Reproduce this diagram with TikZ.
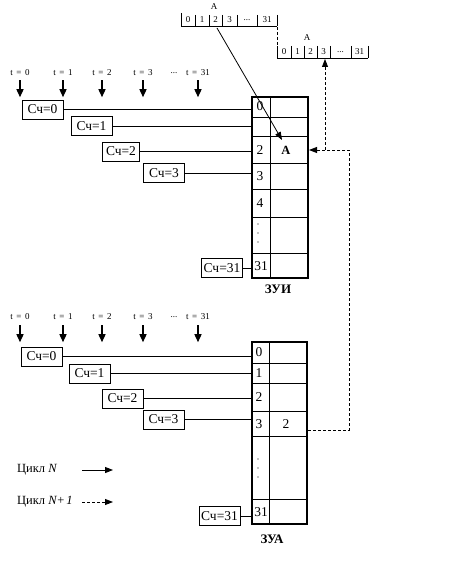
\documentclass[tikz,border=0pt]{standalone}
\usepackage{fontspec}
\setmainfont{Liberation Serif}
\usetikzlibrary{arrows.meta}
\begin{document}
\begin{tikzpicture}[x=1pt,y=-1pt,
  cbox/.style={draw, line width=0.9pt, minimum width=41pt, minimum height=19pt, inner sep=0pt, font=\fontsize{13.5}{13.5}\selectfont},
  tlab/.style={inner sep=0pt, font=\fontsize{9}{9}\selectfont},
  tarr/.style={-{Triangle[length=8pt,width=7pt]}, line width=1.4pt},
  link/.style={line width=0.8pt},
  dline/.style={dash pattern=on 3pt off 2pt, line width=0.9pt},
  rlab/.style={inner sep=0pt, font=\fontsize{13.5}{13.5}\selectfont},
  reg/.style={inner sep=0pt, font=\fontsize{9}{9}\selectfont},
  tbl/.style={draw, line width=1.4pt, inner sep=0pt},
  rowline/.style={line width=0.8pt},
  bigtip/.style={-{Triangle[length=8pt,width=6pt]}},
  ttl/.style={inner sep=0pt, font=\fontsize{13}{13}\selectfont\bfseries},
]
\useasboundingbox (0,0) rectangle (459,564);

% ---------------- registers at the top
\draw[rowline] (181,26) -- (277,26);
\foreach \x/\t in {181/13,195/15,209/15,222/15,237/15,257/15,277/15} \draw[rowline] (\x,\t) -- (\x,26);
\node[reg] (r1c0) at (188,20) {0};
\node[reg] (r1c1) at (202,20) {1};
\node[reg] (r1c2) at (215.5,20) {2};
\node[reg] (r1c3) at (229.5,20) {3};
\node[reg] (r1c4) at (247,20) {...};
\node[reg] (r1c5) at (267,20) {31};
\node[reg] (r1A) at (214,7) {A};

\draw[rowline] (277,58) -- (368,58);
\foreach \x in {277,291,304,317,330,351,368} \draw[rowline] (\x,46) -- (\x,58);
\node[reg] (r2c0) at (284,52) {0};
\node[reg] (r2c1) at (297.5,52) {1};
\node[reg] (r2c2) at (310.5,52) {2};
\node[reg] (r2c3) at (323.5,52) {3};
\node[reg] (r2c4) at (340.5,52) {...};
\node[reg] (r2c5) at (359.5,52) {31};
\node[reg] (r2A) at (307,38) {A};
\coordinate (r1end) at (277,27);
\coordinate (r2start) at (277,46);
\draw[dline] (r1end) -- (r2start);

% ---------------- ZUI table
\node[tbl, minimum width=56pt, minimum height=181pt] (zui) at (280,187.5) {};
\draw[rowline] (270,97) -- (270,278);
\foreach \y in {117,136,163,189,217,253} \draw[rowline] (252,\y) -- (308,\y);
\node[rlab] (u0) at (260,106) {0};
\node[rlab] (u2) at (260,150) {2};
\node[rlab] (u3) at (260,176) {3};
\node[rlab] (u4) at (260,203) {4};
\foreach \y in {224,233,242} \fill (258,\y) circle (0.7pt);
\node[rlab] (u31) at (261,266) {31};
\node[inner sep=0pt, font=\fontsize{12.5}{12.5}\selectfont\bfseries] (uA) at (286,150) {A};
\node[ttl] (zuiname) at (278,289) {ЗУИ};

% ---------------- top time labels
\foreach \n/\x/\t in {a0/20/0,a1/63/1,a2/102/2,a3/143/3,a31/198/31} {
  \node[tlab] (\n) at (\x,73) {t\hspace{3.5pt}=\hspace{3.5pt}\t};
  \draw[tarr] ([yshift=-4pt]\n.south) -- ++(0,17);
}
\node[tlab] (adots) at (174,73) {...};

% ---------------- top counters
\node[cbox] (c0) at (42.5,109.5) {Сч=0};
\node[cbox] (c1) at (91.5,126) {Сч=1};
\node[cbox, minimum width=37pt] (c2) at (121,151.5) {Сч=2};
\node[cbox] (c3) at (164,173) {Сч=3};
\node[cbox] (c31) at (222,268) {Сч=31};
\foreach \c in {c0,c1,c2,c3,c31} \draw[link] (\c.east) -- (\c.east -| zui.west);

% solid arrow from register cell 2 to ZUI cell A
\coordinate (rsrc) at (217,28);
\coordinate (adst) at (282,140);
\draw[line width=0.8pt, bigtip] (rsrc) -- (adst);

% ---------------- bottom time labels
\foreach \n/\x/\t in {b0/20/0,b1/63/1,b2/102/2,b3/143/3,b31/198/31} {
  \node[tlab] (\n) at (\x,317) {t\hspace{3.5pt}=\hspace{3.5pt}\t};
  \draw[tarr] ([yshift=-5pt]\n.south) -- ++(0,17);
}
\node[tlab] (bdots) at (174,317) {...};

% ---------------- ZUA table
\node[tbl, minimum width=55pt, minimum height=182pt] (zua) at (279.5,433) {};
\draw[rowline] (269,342) -- (269,524);
\foreach \y in {363,383,411,436,499} \draw[rowline] (252,\y) -- (307,\y);
\node[rlab] (v0) at (259,352) {0};
\node[rlab] (v1) at (259,373) {1};
\node[rlab] (v2) at (259,397) {2};
\node[rlab] (v3) at (259,424) {3};
\node[rlab] (vv) at (286,424) {2};
\foreach \y in {459,468,477} \fill (258,\y) circle (0.7pt);
\node[rlab] (v31) at (261,512) {31};
\node[ttl] (zuaname) at (272,539) {ЗУА};

% ---------------- bottom counters
\node[cbox] (d0) at (41.5,356.5) {Сч=0};
\node[cbox] (d1) at (89.5,373.5) {Сч=1};
\node[cbox] (d2) at (122.5,398.5) {Сч=2};
\node[cbox] (d3) at (163.5,419.5) {Сч=3};
\node[cbox] (d31) at (219.5,516) {Сч=31};
\foreach \c in {d0,d1,d2,d3,d31} \draw[link] (\c.east) -- (\c.east -| zua.west);

% ---------------- dashed feedback
\coordinate (zuaout) at (308,430);
\coordinate (corner) at (349,150);
\coordinate (junc) at (325,150);
\coordinate (zuiin) at (309,150);
\coordinate (r2in) at (325,59);
\draw[dline, bigtip] (zuaout) -| (corner) -- (zuiin);
\draw[dline, bigtip] (junc) -- (r2in);

% ---------------- legend
\node[anchor=west, inner sep=0pt, font=\fontsize{12.5}{12.5}\selectfont] (lg1) at (17,470) {Цикл \textit{N}};
\node[anchor=west, inner sep=0pt, font=\fontsize{12.5}{12.5}\selectfont] (lg2) at (17,502) {Цикл \textit{N}+\,\textit{1}};
\coordinate (l1a) at (82,470); \coordinate (l1b) at (113,470);
\coordinate (l2a) at (82,502); \coordinate (l2b) at (113,502);
\draw[line width=1pt, bigtip] (l1a) -- (l1b);
\draw[dline, bigtip] (l2a) -- (l2b);
\end{tikzpicture}
\end{document}
